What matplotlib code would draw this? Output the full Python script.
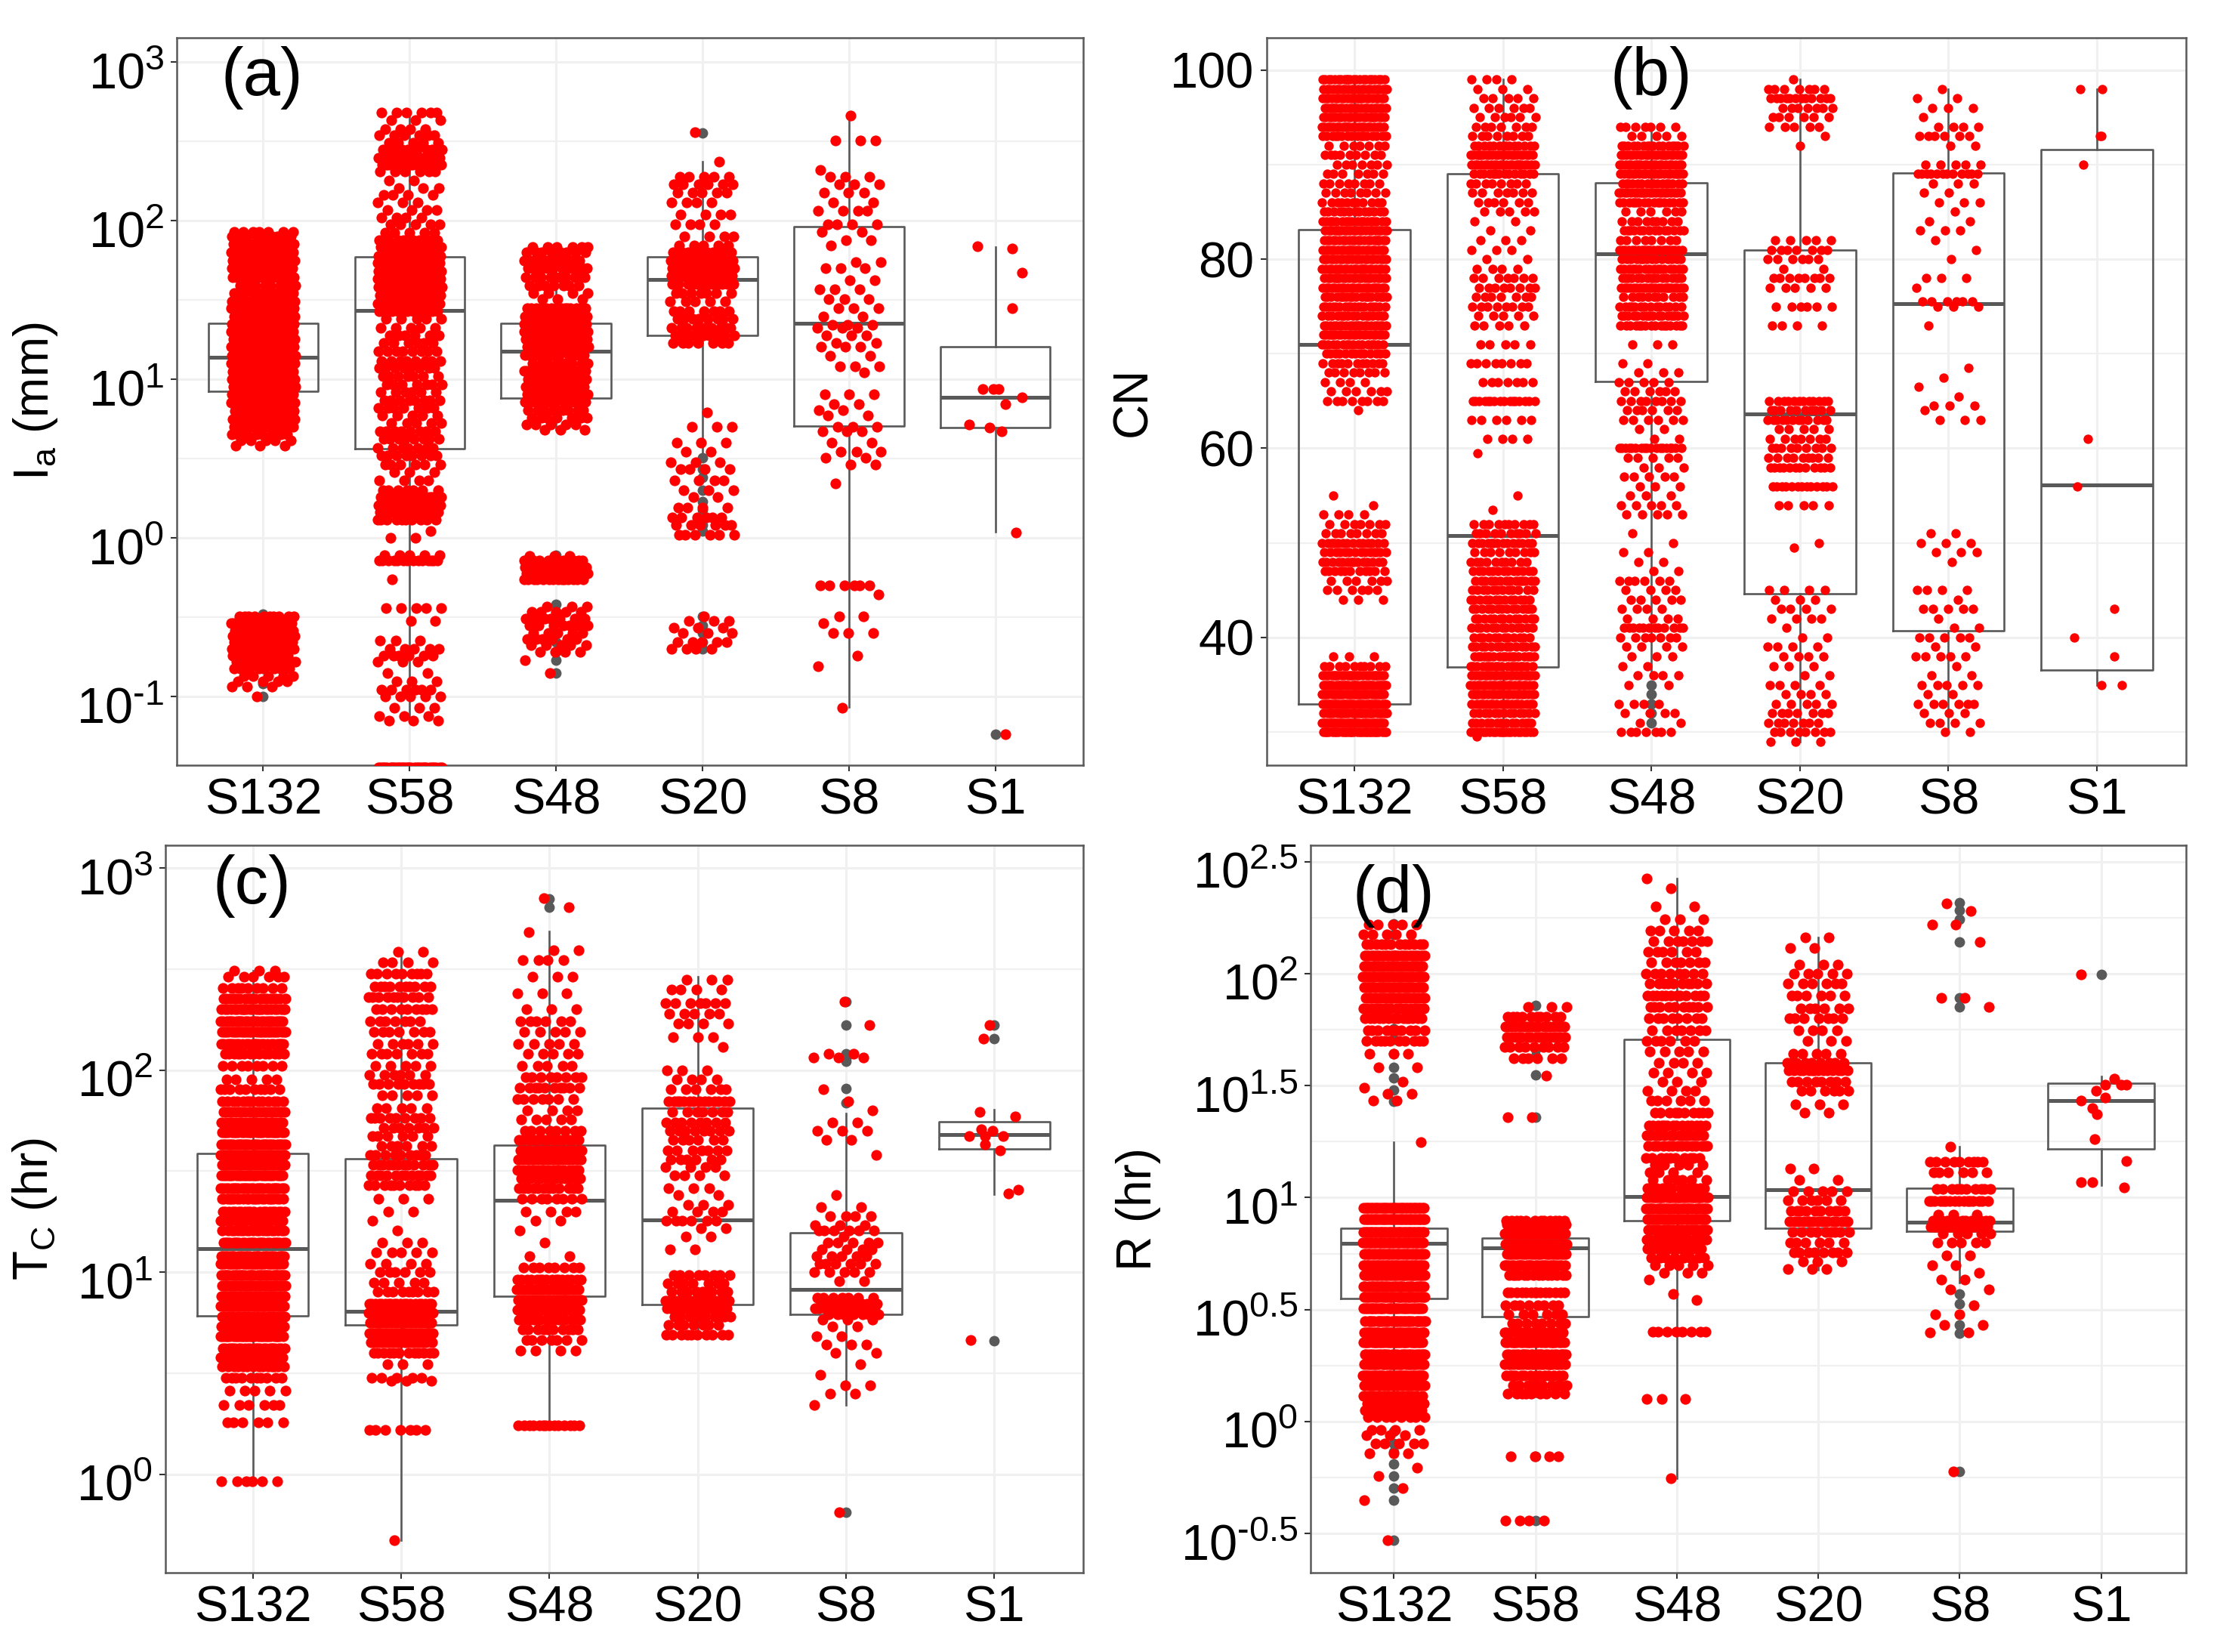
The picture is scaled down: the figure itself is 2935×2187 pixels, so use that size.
import numpy as np
import matplotlib
matplotlib.use('Agg')
import matplotlib.pyplot as plt
from matplotlib.ticker import NullFormatter
from matplotlib.transforms import ScaledTranslation

plt.rcParams['font.family'] = ['Liberation Sans', 'DejaVu Sans']
plt.rcParams['mathtext.fontset'] = 'custom'
plt.rcParams['mathtext.rm'] = 'Liberation Sans'
plt.rcParams['mathtext.it'] = 'Liberation Sans'
plt.rcParams['mathtext.default'] = 'regular'

categories = ['S132', 'S58', 'S48', 'S20', 'S8', 'S1']

# ---- (a) Ia: value levels and how many points sit on each
ia_s132_y = [0.1, 0.115, 0.125, 0.135, 0.15, 0.165, 0.18, 0.2, 0.22, 0.24, 0.26, 0.29, 0.32,
             3.8, 4.1, 4.5, 5, 5.6, 6.3, 7.1, 8, 9, 10, 11.2, 12.6, 14, 16, 18, 20, 22.4, 25, 28, 31,
             35, 39, 44, 50, 56, 63, 71, 80, 85]
ia_s132_n = [1, 3, 4, 5, 8, 10, 12, 16, 18, 18, 16, 14, 10,
             3, 5, 9, 12, 16, 20, 24, 30, 30, 30, 30, 30, 30, 30, 30, 30, 30, 30, 30, 30,
             12, 10, 18, 26, 26, 26, 18, 12, 7]
ia_s58_y = [0.0355, 0.07, 0.075, 0.085, 0.1, 0.11, 0.125, 0.14, 0.165, 0.18, 0.2, 0.225, 0.3, 0.36,
            0.55, 0.72, 0.78, 1, 1.1, 1.3, 1.45, 1.6, 1.8, 2, 2.3, 2.6, 2.9, 3.3, 3.7, 4.2, 4.7, 5.3, 5.9,
            6.6, 7.4, 8.3, 9.3, 10.5, 11.8, 13, 15, 17, 19, 21, 24, 27, 30, 34, 38, 43, 48, 54, 60, 68, 75,
            84, 95, 105, 117, 130, 145, 160, 180, 205, 225, 250, 280, 310, 345, 380, 430, 480]
ia_s58_n = [30, 3, 3, 3, 5, 6, 3, 2, 3, 6, 5, 3, 2, 5,
            1, 14, 5, 2, 1, 10, 18, 22, 18, 7, 4, 3, 6, 8, 7, 8, 8, 5, 5,
            7, 8, 6, 7, 7, 8, 8, 8, 6, 6, 5, 5, 12, 24, 30, 30, 30, 30, 30, 30, 20, 10,
            5, 5, 4, 4, 3, 4, 3, 2, 6, 16, 16, 12, 5, 6, 4, 3, 6]
ia_s48_y = [0.14, 0.17, 0.19, 0.21, 0.23, 0.25, 0.28, 0.31, 0.34, 0.37, 0.55, 0.6, 0.65, 0.72, 0.77,
            4.8, 5.2, 5.7, 6.4, 7.2, 8, 9, 10, 11.3, 12.6, 14.2, 16, 18, 20, 22.4, 25, 28,
            32, 35, 39, 44, 50, 56, 63, 68]
ia_s48_n = [1, 1, 4, 5, 6, 5, 7, 7, 5, 3, 14, 24, 24, 9, 3,
            3, 5, 7, 9, 12, 14, 16, 16, 14, 9, 12, 24, 30, 30, 30, 30, 14,
            3, 4, 7, 10, 12, 12, 8, 6]
ia_s20_y = [0.2, 0.22, 0.25, 0.27, 0.3, 0.32, 1.05, 1.2, 1.35, 1.55, 1.8, 2, 2.3, 2.7, 3, 3.5, 4, 5, 6.2,
            17, 19, 21, 24, 27, 31, 35, 40, 45, 50, 56, 63, 70, 80, 95, 110, 130, 150, 170, 190, 235, 360]
ia_s20_n = [4, 5, 3, 3, 3, 1, 6, 6, 6, 4, 2, 3, 4, 4, 3, 2, 3, 3, 1,
            7, 12, 10, 8, 7, 5, 7, 12, 20, 26, 24, 12, 5, 4, 4, 4, 4, 5, 6, 5, 1, 1]
ia_s8_y = [0.085, 0.155, 0.18, 0.25, 0.29, 0.32, 0.44, 0.5, 2.2, 2.9, 3.2, 3.5, 4, 4.7, 5, 5.9, 6.4, 7, 8,
           11, 12, 14, 16, 17, 19, 21, 22, 25, 28, 32, 37, 42, 50, 55, 70, 75, 85, 95, 115, 130, 150, 170,
           190, 210, 320, 460]
ia_s8_n = [1, 1, 1, 3, 1, 2, 1, 6, 1, 2, 2, 3, 2, 3, 3, 2, 2, 2, 3,
           1, 3, 2, 3, 2, 3, 3, 3, 2, 3, 3, 3, 2, 3, 2, 1, 2, 2, 4, 4, 2, 3, 3,
           3, 1, 3, 1]
ia_s1_y = [69, 67, 47, 28, 8.7, 8.7, 8.7, 7.7, 7, 5.2, 4.95, 4.7, 1.08, 0.058]
ia_s1_jit = [-0.12, 0.115, 0.18, 0.115, -0.087, -0.015, 0.024, 0.18, 0.067, -0.18, -0.04, 0.043, 0.14, 0.07]

ia_q1 = [8.4, 3.66, 7.6, 18.9, 5.07, 4.95]
ia_med = [13.8, 27.3, 15, 42.7, 22.6, 7.7]
ia_q3 = [22.6, 59, 22.6, 59, 92, 16]
ia_lo = [3.8, 0.07, 4.8, 3.3, 0.086, 1.09]
ia_hi = [85, 480, 68, 235, 456, 68]
ia_out = [[0.33, 0.28, 0.15, 0.12, 0.1], [],
          [0.78, 0.72, 0.38, 0.34, 0.3, 0.25, 0.22, 0.19, 0.17, 0.14],
          [356, 3.2, 2.7, 2.4, 2, 1.7, 1.5, 1.2, 1.1, 0.32, 0.28, 0.25, 0.22, 0.2], [], [0.058]]

# ---- (b) CN
cn_s132_y = [99, 98, 97, 96, 95, 94, 93, 92, 91, 90, 89, 88, 87, 86, 85, 84, 83, 82, 81, 80, 79, 78, 77, 76,
             75, 74, 73, 72, 71, 70, 69, 68, 67, 66, 65, 64, 55, 54, 53, 52, 51, 50, 49, 48, 47, 46, 45, 44,
             38, 37, 36, 35, 34, 33, 32, 31, 30]
cn_s132_n = [22, 22, 22, 22, 22, 22, 16, 7, 9, 7, 7, 8, 8, 11, 13, 18, 22, 22, 22, 22, 22, 22, 22, 18,
             18, 16, 22, 22, 16, 13, 11, 8, 4, 6, 8, 1, 1, 1, 4, 7, 8, 14, 14, 14, 11, 6, 6, 3,
             3, 10, 24, 30, 30, 30, 30, 30, 30]
cn_s58_y = [99, 98, 97, 96, 95, 94, 93, 92, 91, 90, 89, 88, 87, 86, 85, 84, 83, 82, 81, 80, 79, 78, 77, 76,
            75, 74, 73, 71, 69, 67, 65, 63, 61, 59.5, 55, 53.5, 52, 51, 50, 49, 48, 47, 46, 45, 44, 43, 42,
            41, 40, 39, 38, 37, 36, 35, 34, 33, 32, 31, 30, 29.5]
cn_s58_n = [4, 3, 5, 6, 6, 7, 8, 14, 22, 22, 14, 8, 7, 6, 5, 2, 2, 3, 3, 2, 4, 7, 8, 7,
            8, 5, 5, 5, 8, 7, 16, 6, 4, 1, 1, 1, 10, 10, 14, 9, 10, 13, 14, 12, 13, 14, 13,
            13, 12, 14, 18, 18, 22, 22, 22, 18, 13, 14, 22, 1]
cn_s48_y = [94, 93, 92, 91, 90, 89, 88, 87, 86, 85, 84, 83, 82, 81, 80, 79, 78, 77, 76, 75, 74, 73, 71, 69, 68,
            67, 66, 65, 64, 63, 62, 61, 60, 59, 58, 57, 56, 55, 54, 53, 51, 50, 49, 48, 47, 46, 45, 44, 43, 42,
            41, 40, 39, 38, 37, 36, 35, 33, 32, 31, 30]
cn_s48_n = [7, 5, 16, 22, 22, 22, 16, 22, 16, 6, 9, 14, 8, 22, 14, 16, 16, 22, 11, 14, 16, 16, 3, 2, 3,
            5, 6, 8, 6, 6, 2, 2, 18, 5, 3, 5, 3, 3, 5, 5, 1, 1, 2, 2, 2, 6, 4, 5, 4, 4,
            12, 7, 4, 3, 2, 4, 2, 4, 4, 2, 7]
cn_s20_y = [99, 98, 97, 96, 95, 94, 93, 92, 82, 81, 80, 79, 78, 77, 75, 73, 65, 64, 63, 62, 61, 60, 59, 58, 56,
            54, 50, 49.5, 45, 44, 43, 42, 41, 40, 39, 38, 37, 36, 35, 34, 33, 32, 31, 30, 29]
cn_s20_n = [1, 7, 12, 7, 6, 5, 1, 1, 5, 7, 6, 2, 8, 5, 6, 4, 12, 10, 12, 5, 7, 9, 9, 12, 13,
            5, 1, 1, 4, 3, 4, 4, 1, 2, 4, 4, 3, 2, 4, 4, 5, 7, 7, 8, 3]
cn_s8_y = [98, 97, 96, 95, 94, 93, 92, 90, 89, 88, 87, 86, 85, 84, 83, 82, 81, 80, 78, 77, 75.5, 75, 73,
           68.5, 67.5, 66.5, 65.5, 64.5, 64, 63, 51, 50, 49, 48, 45, 44, 43, 42, 41, 40, 39, 38, 37, 36, 35,
           34, 33, 32, 31, 30]
cn_s8_n = [1, 2, 3, 1, 4, 6, 2, 5, 12, 3, 2, 3, 1, 2, 3, 1, 1, 1, 3, 1, 6, 3, 1,
           1, 1, 1, 1, 3, 1, 3, 2, 3, 3, 1, 4, 1, 5, 1, 2, 5, 2, 5, 1, 2, 5,
           2, 6, 3, 4, 2]
cn_s1_y = [98, 98, 93, 93, 90, 61, 56, 43, 40, 38, 35, 35]
cn_s1_jit = [-0.11, 0.035, 0.02, 0.03, -0.09, -0.06, -0.13, 0.115, -0.155, 0.115, 0.03, 0.17]

cn_q1 = [33, 36.9, 67.1, 44.6, 40.7, 36.6]
cn_med = [71, 50.8, 80.6, 63.6, 75.3, 56.1]
cn_q3 = [83.1, 89, 88.1, 81, 89.1, 91.6]
cn_lo = [30, 30, 36, 29, 30, 35]
cn_hi = [99, 99, 94, 99, 98, 98]
cn_out = [[], [], [35, 34, 33, 32, 31], [], [], []]

# ---- (c) Tc
tc_s132_y = [0.92, 1.8, 2.2, 2.6, 3, 3.4, 3.8, 4.2, 4.8, 5.4, 6, 6.8, 7.6, 8.6, 9.7, 11, 12, 14, 16, 18, 20, 23,
             26, 30, 34, 38, 43, 49, 55, 62, 70, 80, 90, 105, 120, 135, 155, 175, 200, 225, 255, 290, 310]
tc_s132_n = [6, 6, 6, 5, 10, 14, 18, 24, 30, 34, 34, 34, 34, 34, 30, 30, 30, 26, 20, 18, 20, 24,
             26, 30, 30, 30, 30, 26, 20, 20, 14, 10, 5, 8, 14, 24, 30, 26, 24, 18, 9, 6, 3]
tc_s58_y = [0.47, 1.65, 2.9, 3, 3.5, 4, 4.5, 5, 5.6, 6.3, 7, 8, 8.9, 10, 11, 12.5, 14, 16, 18, 20, 23, 27, 30, 34,
            38, 42, 47, 52, 58, 65, 75, 85, 95, 105, 120, 135, 155, 175, 200, 230, 260, 300, 340, 385]
tc_s58_n = [1, 7, 3, 5, 3, 12, 20, 28, 30, 30, 20, 9, 5, 6, 4, 5, 3, 1, 1, 2, 3, 10, 12, 12,
            9, 6, 6, 7, 9, 5, 5, 9, 6, 5, 7, 6, 7, 7, 9, 10, 10, 9, 4, 2]
tc_s48_y = [1.75, 4.1, 4.6, 5.2, 5.8, 6.5, 7.3, 8.2, 9.2, 10.5, 12, 14, 16, 18, 20, 23, 26, 29, 32, 36, 40, 45, 50,
            57, 63, 72, 82, 92, 105, 120, 135, 155, 175, 200, 240, 290, 350, 390, 480, 640, 710]
tc_s48_n = [14, 4, 7, 10, 16, 24, 28, 28, 16, 8, 2, 1, 1, 2, 4, 8, 12, 14, 18, 20, 20, 14, 8,
            5, 4, 7, 10, 8, 5, 5, 5, 5, 6, 3, 3, 3, 4, 2, 1, 1, 1]
tc_s20_y = [4.9, 5.5, 6, 6.6, 7.2, 8, 8.8, 9.7, 13, 15, 16.5, 18, 20, 21.5, 24, 26, 30, 33, 36, 40, 45, 50, 55, 62,
            70, 80, 90, 100, 130, 145, 170, 190, 215, 250, 280]
tc_s20_n = [10, 7, 10, 14, 16, 9, 7, 8, 2, 2, 2, 6, 4, 3, 2, 3, 4, 4, 6, 7, 6, 8, 8, 7,
            14, 6, 4, 3, 1, 3, 4, 5, 7, 4, 3]
tc_s8_y = [0.65, 2.2, 2.5, 2.75, 3.1, 3.5, 4, 4.4, 4.8, 5.4, 5.8, 6.2, 6.6, 7, 7.5, 9, 10, 11, 12, 13, 14, 15, 16,
           17, 19, 21, 24, 38, 45, 50, 55, 63, 70, 80, 115, 120, 167, 218]
tc_s8_n = [1, 1, 2, 2, 1, 1, 2, 3, 2, 2, 3, 7, 10, 10, 7, 2, 5, 6, 5, 4, 5, 1, 6,
           3, 4, 2, 1, 1, 2, 3, 2, 1, 1, 1, 3, 2, 1, 1]
tc_s1_y = [167, 143, 62, 59, 51, 50, 47, 47, 47, 43, 40, 25.5, 24.5, 4.6]
tc_s1_jit = [-0.03, -0.07, -0.10, 0.14, -0.09, -0.01, -0.17, -0.06, 0.06, -0.06, 0.04, 0.16, 0.095, -0.16]

tc_q1 = [6.1, 5.46, 7.6, 6.9, 6.2, 40.6]
tc_med = [13.1, 6.4, 22.6, 18.1, 8.2, 47.8]
tc_q3 = [38.7, 36.4, 42.6, 65, 15.7, 55.5]
tc_lo = [0.93, 0.47, 1.75, 4.9, 2.2, 24.2]
tc_hi = [310, 385, 485, 290, 60.8, 63.4]
tc_out = [[], [], [705, 637], [], [0.65, 69, 80.7, 110, 114, 120, 167, 218], [167, 143, 4.56]]

# ---- (d) R
r_s132_y = [0.294, 0.447, 0.505, 0.57, 0.62, 0.72, 0.8, 0.87, 0.92, 1.05, 1.12, 1.2, 1.3, 1.45, 1.6, 1.8, 2, 2.25,
            2.5, 2.8, 3.2, 3.6, 4, 4.5, 5, 5.6, 6.3, 7, 8, 9, 17.7, 27, 29, 31, 33, 38, 44, 50, 56, 63, 70, 78,
            87, 97, 108, 120, 135, 150, 165]
r_s132_n = [1, 1, 1, 1, 1, 3, 5, 3, 4, 8, 10, 14, 20, 26, 30, 30, 30, 30,
            30, 30, 30, 30, 30, 34, 34, 34, 34, 34, 34, 34, 1, 2, 2, 1, 1, 2, 3, 10, 10, 14, 18, 22,
            24, 28, 28, 22, 12, 5, 5]
r_s58_y = [0.36, 0.7, 1.33, 1.45, 1.6, 1.8, 2, 2.25, 2.5, 2.75, 3, 3.3, 3.77, 4.5, 5, 5.6, 6.2, 6.9, 7.6, 7.9,
           22.9, 35, 42, 47, 52, 58, 64, 71]
r_s58_n = [4, 4, 9, 10, 14, 22, 24, 24, 16, 8, 6, 8, 14, 14, 26, 30, 30, 30, 30, 12,
           2, 1, 6, 9, 16, 18, 10, 3]
r_s48_y = [0.56, 1.26, 2.52, 3.5, 3.7, 4.3, 4.6, 5, 5.4, 5.9, 6.5, 7.2, 8, 8.9, 10, 11, 12, 13, 14, 15, 17, 19, 21,
           24, 27, 30, 33, 36, 40, 45, 50, 56, 63, 71, 80, 90, 100, 112, 125, 140, 155, 175, 200, 240, 266]
r_s48_n = [1, 3, 8, 1, 1, 1, 3, 5, 8, 12, 18, 24, 26, 30, 30, 12, 6, 4, 5, 10, 14, 14, 14,
           10, 6, 4, 3, 4, 4, 5, 6, 7, 8, 10, 12, 10, 8, 7, 6, 7, 5, 3, 2, 1, 1]
r_s20_y = [4.8, 5.2, 5.7, 6.3, 7, 7.8, 8.7, 9.7, 10.7, 12, 13.5, 24, 26, 30, 33, 37, 40, 44, 50, 56, 63, 70, 80, 90,
           100, 110, 130, 145]
r_s20_n = [3, 3, 8, 6, 9, 16, 10, 6, 5, 2, 2, 2, 3, 6, 8, 14, 9, 5, 3, 4, 7, 6, 6, 6,
           5, 3, 2, 2]
r_s8_y = [0.6, 2.5, 2.7, 3, 3.3, 3.9, 4.3, 4.6, 5, 5.5, 6.3, 6.9, 7.4, 7.9, 8.4, 9.66, 10.9, 13, 14.5, 16.9,
          71, 78, 138, 165, 190, 205]
r_s8_n = [1, 2, 2, 2, 1, 2, 2, 1, 2, 2, 5, 5, 16, 10, 3, 16, 10, 6, 9, 1,
          1, 2, 1, 2, 1, 1]
r_s1_y = [99, 34, 32, 32, 32, 30, 28, 27, 25, 23.5, 18.3, 14.6, 11.7, 11.7, 11.1]
r_s1_jit = [-0.14, 0.09, 0.03, 0.14, 0.18, -0.035, 0.03, -0.14, -0.06, -0.03, -0.045, 0.18, -0.14, -0.06, 0.16]

r_q1 = [3.53, 2.94, 7.9, 7.28, 7.05, 16.5]
r_med = [6.25, 5.98, 10.1, 10.8, 7.76, 27.1]
r_q3 = [7.28, 6.6, 50.9, 39.9, 11, 32.5]
r_lo = [1.07, 1.29, 0.557, 4.76, 4.16, 11.4]
r_hi = [17.7, 7.9, 266, 145, 16.9, 34.7]
r_out = [[0.294, 0.447, 0.505, 0.57, 0.645, 0.73, 0.8, 0.9, 26.8, 30.3, 34.3, 38.2, 44, 50.7, 56.5, 63, 150, 167],
         [0.36, 0.7, 22.9, 35.4, 43, 46, 72], [], [],
         [0.597, 2.48, 2.7, 3.35, 3.7, 71, 78, 138, 175, 192, 208], [99]]

GREY = '#595959'


def golden_jitter(n):
    # evenly spread horizontal offsets, the jitter of the original plot
    return ((np.arange(n) * 0.618034 + 0.4) % 1 - 0.5) * 0.44


def draw_panel(ax, ys, ns, s1_y, s1_jit, q1, med, q3, lo, hi, out, size=105):
    pos = np.arange(1, 7)
    stats = [{'q1': q1[i], 'med': med[i], 'q3': q3[i], 'whislo': lo[i], 'whishi': hi[i], 'fliers': out[i]}
             for i in range(6)]
    ax.bxp(stats, positions=pos, widths=0.75, showcaps=False, manage_ticks=False, zorder=2,
           boxprops=dict(color=GREY, linewidth=1.9),
           whiskerprops=dict(color=GREY, linewidth=1.9),
           medianprops=dict(color=GREY, linewidth=3.6, solid_capstyle='butt'),
           flierprops=dict(marker='o', markerfacecolor=GREY, markeredgecolor='none', markersize=10))
    for i in range(5):
        vals = np.repeat(ys[i], ns[i])
        ax.scatter(pos[i] + golden_jitter(len(vals)), vals, s=size, color='red', linewidths=0, zorder=3)
    ax.scatter(pos[5] + np.array(s1_jit), s1_y, s=size, color='red', linewidths=0, zorder=3)
    ax.set_xlim(0.41, 6.6)
    ax.set_xticks(pos)
    ax.set_xticklabels(categories)
    ax.set_axisbelow(True)
    ax.grid(True, which='major', color='#F0F0F0', linewidth=2.2)
    ax.grid(True, which='minor', axis='y', color='#F0F0F0', linewidth=1.6)
    ax.tick_params(axis='both', which='major', labelsize=48, length=6, width=1.5, color='#333333', pad=6)
    ax.tick_params(axis='y', which='minor', length=0)
    for sp in ax.spines.values():
        sp.set_color(GREY)
        sp.set_linewidth(1.8)


def log_ticks(ax, exps, minor_exps, labels):
    ax.set_yscale('log')
    ax.set_yticks([10.0 ** e for e in exps])
    ax.set_yticklabels(labels)
    ax.set_yticks([10.0 ** e for e in minor_exps], minor=True)
    ax.yaxis.set_minor_formatter(NullFormatter())
    # superscripted labels sit a little under their tick in the original
    shift = ScaledTranslation(0, -8 / 72, ax.figure.dpi_scale_trans)
    for lab in ax.get_yticklabels():
        lab.set_transform(lab.get_transform() + shift)


W, H = 2935.0, 2187.0
fig = plt.figure(figsize=(29.35, 21.87), dpi=100)


def add_axes(l, r, t, b):
    return fig.add_axes([l / W, 1 - b / H, (r - l) / W, (b - t) / H])


# (a)
ax = add_axes(234, 1434, 50, 1013)
draw_panel(ax, [ia_s132_y, ia_s58_y, ia_s48_y, ia_s20_y, ia_s8_y], [ia_s132_n, ia_s58_n, ia_s48_n, ia_s20_n, ia_s8_n],
           ia_s1_y, ia_s1_jit, ia_q1, ia_med, ia_q3, ia_lo, ia_hi, ia_out)
log_ticks(ax, [-1, 0, 1, 2, 3], [-0.5, 0.5, 1.5, 2.5],
          ['$10^{\\text{-}1}$', '$10^{0}$', '$10^{1}$', '$10^{2}$', '$10^{3}$'])
ax.set_ylim(10 ** -1.434, 10 ** 3.154)
ax.set_ylabel('I$_{a}$ (mm)', fontsize=46, va='center')
ax.yaxis.set_label_coords(-0.156, 0.5)
ax.text(0.094, 0.945, '(a)', transform=ax.transAxes, fontsize=64, ha='center', va='center', zorder=5)

# (b)
ax = add_axes(1677, 2894, 50, 1013)
draw_panel(ax, [cn_s132_y, cn_s58_y, cn_s48_y, cn_s20_y, cn_s8_y], [cn_s132_n, cn_s58_n, cn_s48_n, cn_s20_n, cn_s8_n],
           cn_s1_y, cn_s1_jit, cn_q1, cn_med, cn_q3, cn_lo, cn_hi, cn_out, size=80)
ax.set_yticks([40, 60, 80, 100])
ax.set_yticks([30, 50, 70, 90], minor=True)
ax.set_ylim(26.5, 103.4)
ax.set_ylabel('CN', fontsize=46, va='center')
ax.yaxis.set_label_coords(-0.145, 0.5)
ax.text(0.418, 0.945, '(b)', transform=ax.transAxes, fontsize=64, ha='center', va='center', zorder=5)

# (c)
ax = add_axes(219, 1434, 1119, 2082)
draw_panel(ax, [tc_s132_y, tc_s58_y, tc_s48_y, tc_s20_y, tc_s8_y], [tc_s132_n, tc_s58_n, tc_s48_n, tc_s20_n, tc_s8_n],
           tc_s1_y, tc_s1_jit, tc_q1, tc_med, tc_q3, tc_lo, tc_hi, tc_out)
log_ticks(ax, [0, 1, 2, 3], [0.5, 1.5, 2.5], ['$10^{0}$', '$10^{1}$', '$10^{2}$', '$10^{3}$'])
ax.set_ylim(10 ** -0.487, 10 ** 3.112)
ax.set_ylabel('T$_{C}$ (hr)', fontsize=46, va='center')
ax.yaxis.set_label_coords(-0.142, 0.5)
ax.text(0.094, 0.944, '(c)', transform=ax.transAxes, fontsize=64, ha='center', va='center', zorder=5)

# (d)
ax = add_axes(1735, 2894, 1119, 2082)
draw_panel(ax, [r_s132_y, r_s58_y, r_s48_y, r_s20_y, r_s8_y], [r_s132_n, r_s58_n, r_s48_n, r_s20_n, r_s8_n],
           r_s1_y, r_s1_jit, r_q1, r_med, r_q3, r_lo, r_hi, r_out)
log_ticks(ax, [-0.5, 0, 0.5, 1, 1.5, 2, 2.5], [-0.25, 0.25, 0.75, 1.25, 1.75, 2.25],
          ['$10^{\\text{-}0.5}$', '$10^{0}$', '$10^{0.5}$', '$10^{1}$', '$10^{1.5}$', '$10^{2}$', '$10^{2.5}$'])
ax.set_ylim(10 ** -0.675, 10 ** 2.573)
ax.set_ylabel('R (hr)', fontsize=46, va='center')
ax.yaxis.set_label_coords(-0.197, 0.5)
ax.text(0.095, 0.93, '(d)', transform=ax.transAxes, fontsize=64, ha='center', va='center', zorder=5)

fig.savefig('out.png', dpi=100)
